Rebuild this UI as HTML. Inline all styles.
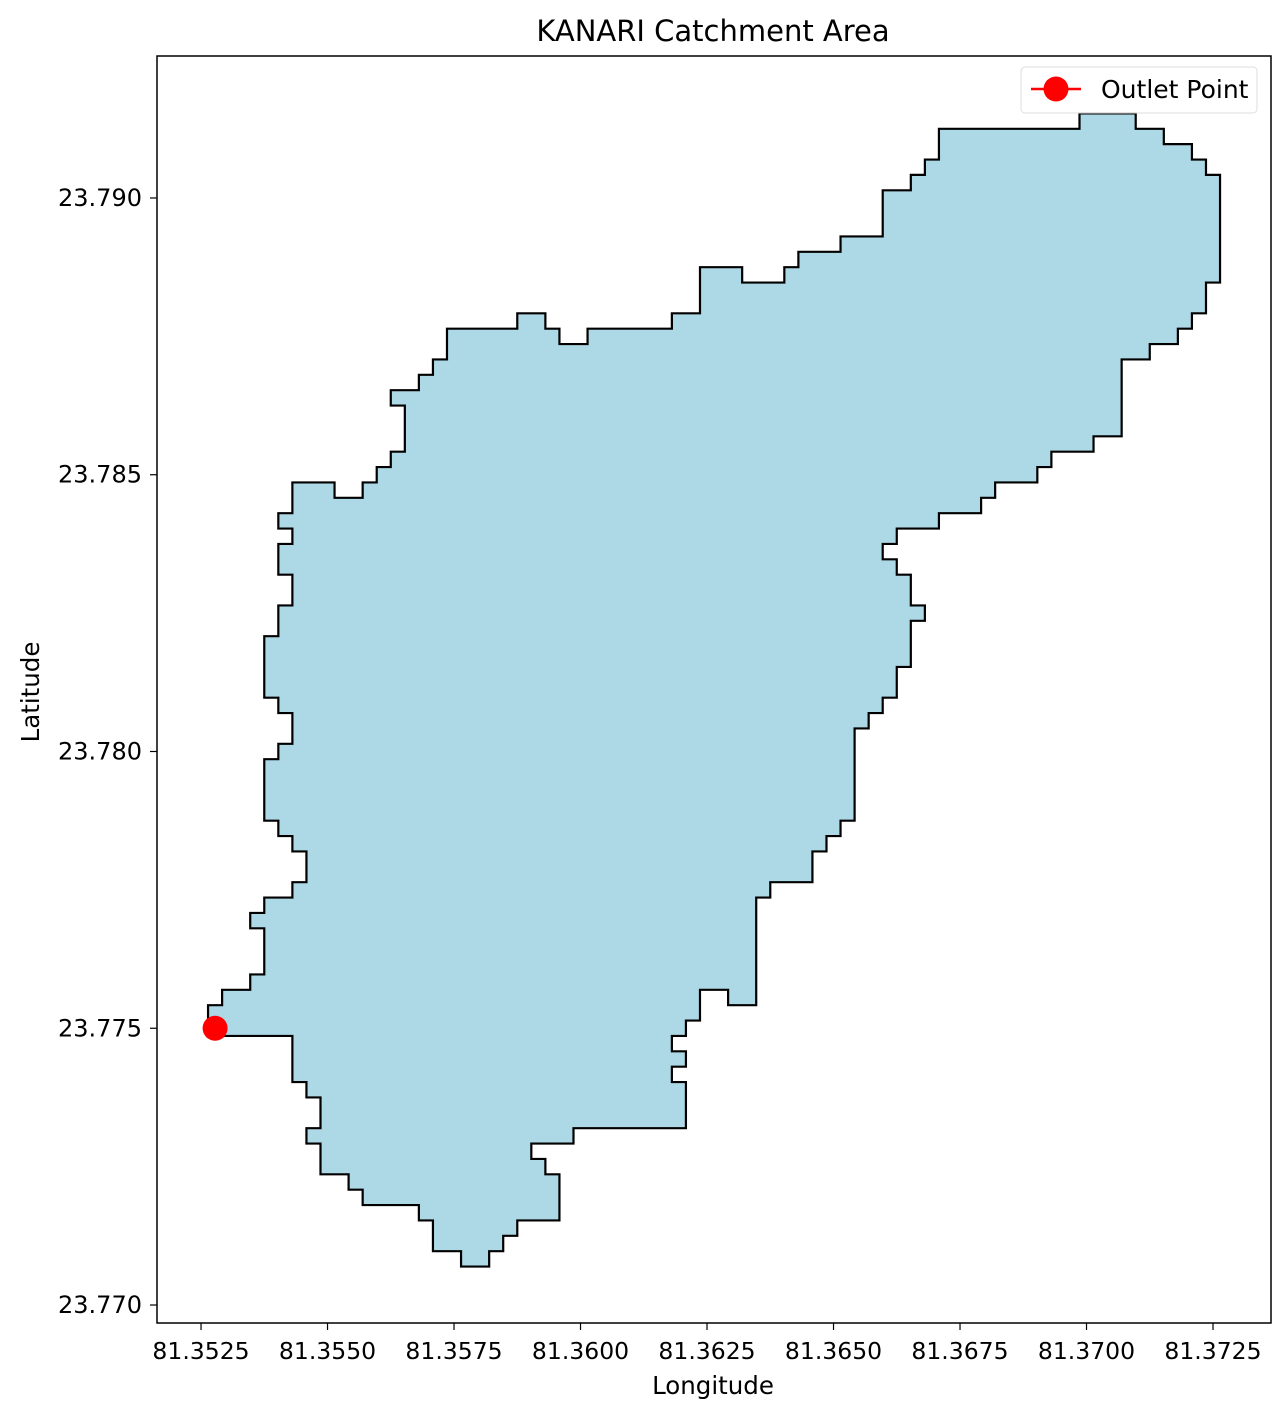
<!DOCTYPE html>
<html><head><meta charset="utf-8"><style>
body{margin:0;background:#fff;}
svg{display:block;font-family:"DejaVu Sans","Liberation Sans",sans-serif;}
</style></head><body>
<svg id="chart" width="1288" height="1417" viewBox="0 0 1288 1417"></svg>
<script>
// Boundary vertices in arc-second grid offsets from grid origin
const boundaryCol = [0,6,6,7,7,8,8,7,7,8,8,10,10,11,11,15,15,16,16,18,18,20,20,21,21,22,22,25,25,24,24,23,23,26,26,34,34,33,33,34,34,33,33,34,34,35,35,37,37,39,39,40,40,43,43,44,44,45,45,46,46,47,47,48,48,49,49,50,50,51,51,50,50,49,49,48,48,49,49,52,52,55,55,56,56,59,59,60,60,63,63,65,65,67,67,69,69,70,70,71,71,72,72,71,71,70,70,68,68,66,66,62,62,52,52,51,51,50,50,48,48,45,45,42,42,41,41,38,38,35,35,33,33,27,27,25,25,24,24,22,22,17,17,16,16,15,15,13,13,14,14,13,13,12,12,11,11,9,9,6,6,5,5,6,6,5,5,6,6,5,5,4,4,5,5,6,6,5,5,4,4,5,5,6,6,7,7,6,6,4,4,3,3,4,4,3,3,1,1,0];
const boundaryRow = [0,0,-3,-3,-4,-4,-6,-6,-7,-7,-9,-9,-10,-10,-11,-11,-12,-12,-14,-14,-15,-15,-14,-14,-13,-13,-12,-12,-9,-9,-8,-8,-7,-7,-6,-6,-3,-3,-2,-2,-1,-1,0,0,1,1,3,3,2,2,9,9,10,10,12,12,13,13,14,14,20,20,21,21,22,22,24,24,27,27,28,28,30,30,31,31,32,32,33,33,34,34,35,35,36,36,37,37,38,38,39,39,44,44,45,45,46,46,47,47,49,49,56,56,57,57,58,58,59,59,60,60,59,59,57,57,56,56,55,55,52,52,51,51,50,50,49,49,50,50,47,47,46,46,45,45,46,46,47,47,46,46,44,44,43,43,42,42,41,41,38,38,37,37,36,36,35,35,36,36,34,34,33,33,32,32,30,30,28,28,26,26,22,22,21,21,19,19,18,18,14,14,13,13,12,12,10,10,9,9,8,8,7,7,4,4,3,3,2,2];
const gridOriginLon = 81.3526389;
const gridOriginLat = 23.7748611;
const outletLon = [81.3527778];
const outletLat = [23.775];
const xTicks = [81.3525,81.3550,81.3575,81.3600,81.3625,81.3650,81.3675,81.3700,81.3725];
const yTicks = [23.770,23.775,23.780,23.785,23.790];

const NS='http://www.w3.org/2000/svg';
const svg=document.getElementById('chart');
const X0=157,X1=1271,Y0=56,Y1=1323;
const lonMin=81.35163,lonMax=81.373646,latMin=23.769675,latMax=23.792565;
function sx(v){return X0+(v-lonMin)/(lonMax-lonMin)*(X1-X0);}
function sy(v){return Y1-(v-latMin)/(latMax-latMin)*(Y1-Y0);}
function mk(tag,attrs,parent){const e=document.createElementNS(NS,tag);for(const k in attrs)e.setAttribute(k,attrs[k]);(parent||svg).appendChild(e);return e;}

let pts=boundaryCol.map((c,i)=>sx(gridOriginLon+c/3600).toFixed(2)+','+sy(gridOriginLat+boundaryRow[i]/3600).toFixed(2)).join(' ');
const poly=mk('polygon',{points:pts,fill:'#add8e6',stroke:'#000','stroke-width':2.2,'stroke-linejoin':'miter'});



outletLon.forEach((lo,i)=>{
  const c=mk('circle',{cx:sx(lo),cy:sy(outletLat[i]),r:12.5,fill:'#ff0000'});
  
  
});

const fr=mk('rect',{x:X0,y:Y0,width:X1-X0,height:Y1-Y0,fill:'none',stroke:'#000','stroke-width':1.5});



xTicks.forEach(t=>{
  const x=sx(t);
  const l=mk('line',{x1:x,x2:x,y1:Y1,y2:Y1+7,stroke:'#000','stroke-width':1.2});
  
  
  const tx=mk('text',{x:x,y:Y1+36,'text-anchor':'middle','font-size':23.5});
  tx.textContent=t.toFixed(4);
  
  
});
yTicks.forEach(t=>{
  const y=sy(t);
  const l=mk('line',{x1:X0-7,x2:X0,y1:y,y2:y,stroke:'#000','stroke-width':1.2});
  
  
  const tx=mk('text',{x:X0-15,y:y+8,'text-anchor':'end','font-size':24});
  tx.textContent=t.toFixed(3);
  
  
});
</script>
<script>
const s2=document.getElementById('chart');
function add(tag,attrs,txt){const e=document.createElementNS('http://www.w3.org/2000/svg',tag);for(const k in attrs)e.setAttribute(k,attrs[k]);if(txt)e.textContent=txt;s2.appendChild(e);return e;}
let t=add('text',{x:713,y:41,'text-anchor':'middle','font-size':29},'KANARI Catchment Area');


t=add('text',{x:713,y:1394,'text-anchor':'middle','font-size':24.5},'Longitude');


t=add('text',{x:39,y:692,'text-anchor':'middle','font-size':24.5,transform:'rotate(-90 39 692)'},'Latitude');


let g=add('rect',{x:1021,y:67,width:236,height:46,rx:4,fill:'#fff','fill-opacity':0.8,stroke:'#ddd','stroke-width':1});


g=add('line',{x1:1031,x2:1081,y1:89,y2:89,stroke:'#ff0000','stroke-width':2.5});


g=add('circle',{cx:1056,cy:89,r:12.5,fill:'#ff0000'});


g=add('text',{x:1101,y:98,'font-size':25},'Outlet Point');


</script>
</body></html>
